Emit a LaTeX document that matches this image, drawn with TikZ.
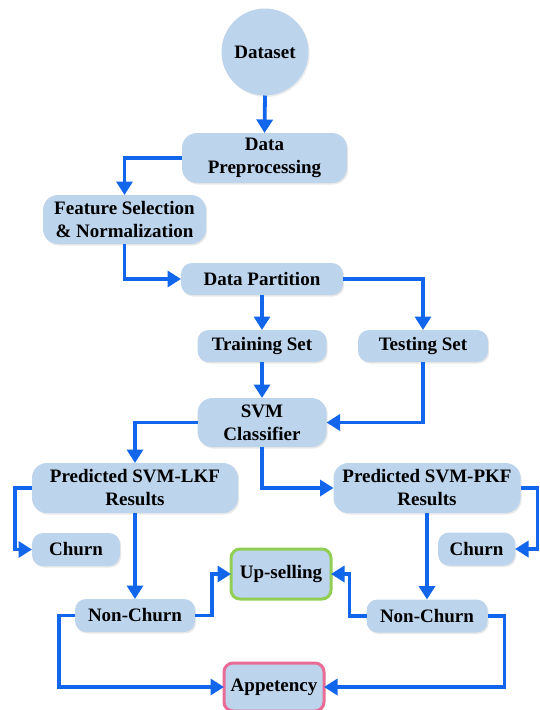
\documentclass[tikz,border=0pt]{standalone}
\usepackage{fontspec}
\setmainfont{Liberation Serif}
\usetikzlibrary{arrows.meta,shadows}
\definecolor{boxfill}{RGB}{188,212,236}
\definecolor{arrowblue}{RGB}{18,102,235}
\definecolor{upgreen}{RGB}{146,206,84}
\definecolor{apppink}{RGB}{232,108,150}
\begin{document}
\begin{tikzpicture}[x=1pt,y=-1pt,
  every node/.style={font=\fontsize{19}{23}\selectfont\bfseries, align=center, inner sep=0pt, outer sep=0pt},
  box/.style={fill=boxfill, rounded corners=15pt, drop shadow={shadow xshift=1.2pt, shadow yshift=-1.5pt, opacity=0.18}},
  sbox/.style={box, rounded corners=11pt},
  goalbox/.style={fill=boxfill, rounded corners=9pt, line width=3pt},
  arr/.style={draw=arrowblue, line width=3.8pt, -{Triangle[length=13.5pt,width=16pt]}}
]
\useasboundingbox (0,0) rectangle (540,710);
\node[circle, fill=boxfill, minimum size=87pt, drop shadow={shadow xshift=1.2pt, shadow yshift=-1.5pt, opacity=0.15}] (ds) at (265,52) {Dataset};
\node[box, minimum width=165pt, minimum height=50pt] (dp) at (264.5,158) {Data\\Preprocessing};
\node[box, minimum width=163pt, minimum height=49pt] (fs) at (124.5,219.5) {Feature Selection\\\& Normalization};
\node[sbox, minimum width=162pt, minimum height=32pt] (dpart) at (262,279) {Data Partition};
\node[sbox, minimum width=129pt, minimum height=32pt] (train) at (262,346) {Training Set};
\node[sbox, minimum width=130pt, minimum height=32pt] (test) at (423,346) {Testing Set};
\node[box, minimum width=129pt, minimum height=49pt] (svm) at (262,422.5) {SVM\\Classifier};
\node[box, minimum width=206pt, minimum height=50pt] (lkf) at (135,488) {Predicted SVM-LKF\\Results};
\node[box, minimum width=187pt, minimum height=50pt] (pkf) at (427,488) {Predicted SVM-PKF\\Results};
\node[sbox, minimum width=88pt, minimum height=33pt] (churnl) at (76,549.5) {Churn};
\node[sbox, minimum width=77pt, minimum height=33pt] (churnr) at (476.5,549) {Churn};
\node[goalbox, draw=upgreen, minimum width=100pt, minimum height=50pt] (up) at (281,574) {Up-selling};
\node[sbox, minimum width=120pt, minimum height=33pt] (ncl) at (135,615.5) {Non-Churn};
\node[sbox, minimum width=121pt, minimum height=33pt] (ncr) at (427,616) {Non-Churn};
\node[goalbox, draw=apppink, minimum width=100pt, minimum height=48pt] (app) at (274,687) {Appetency};

\draw[arr] (ds.south) -- (dp.north);
\draw[arr] (dp.west) -| (fs.north);
\draw[arr] (fs.south) |- (dpart.west);
\draw[arr] (dpart.east) -| (test.north);
\draw[arr] (dpart.south) -- (train.north);
\draw[arr] (train.south) -- (svm.north);
\draw[arr] (test.south) |- (svm.east);
\draw[arr] (svm.west) -| (lkf.north);
\draw[arr] (svm.south) |- (pkf.west);
\draw[arr] (lkf.west) -- ++(-17,0) |- (churnl.west);
\draw[arr] (lkf.south) -- (ncl.north);
\draw[arr] (pkf.east) -- ++(17,0) |- (churnr.east);
\draw[arr] (pkf.south) -- (ncr.north);
\draw[arr] (ncl.east) -- ++(17,0) |- (up.west);
\draw[arr] (ncr.west) -- ++(-17,0) |- (up.east);
\draw[arr] (ncl.west) -- ++(-16,0) |- (app.west);
\draw[arr] (ncr.east) -- ++(17,0) |- (app.east);
\end{tikzpicture}
\end{document}
